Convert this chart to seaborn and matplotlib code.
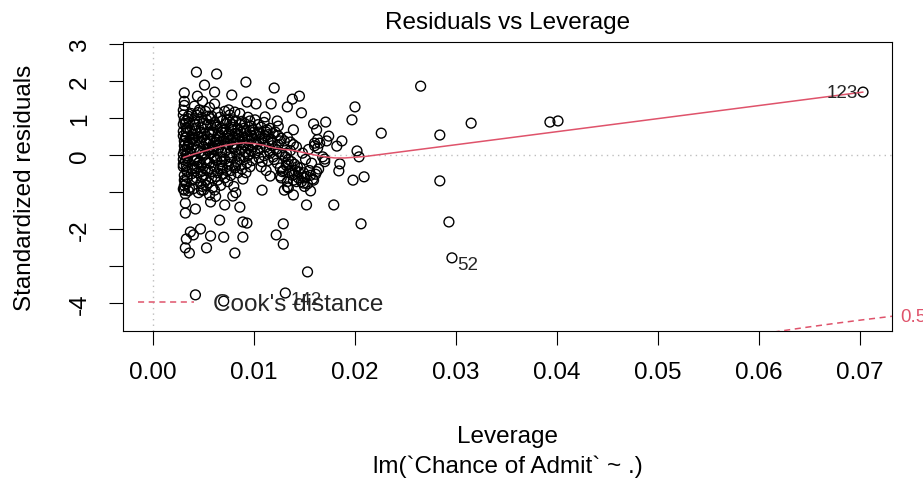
import numpy as np
import pandas as pd
import matplotlib
matplotlib.use("Agg")
import matplotlib.pyplot as plt
from matplotlib.lines import Line2D
import seaborn as sns

# ---------------- data ----------------
# dense core, by leverage band
core_lev_a = [0.0030,0.0031,0.0033,0.0030,0.0032,0.0035,0.0031,0.0034,0.0037,0.0030,0.0033,0.0036,0.0031,0.0039,0.0032,0.0030,0.0034,0.0038,0.0031,0.0033,0.0035,0.0030,0.0032,0.0036,0.0039,0.0031,0.0034,0.0030,0.0037,0.0033,0.0031,0.0035,0.0032,0.0038,0.0030,0.0034,0.0036,0.0031,0.0033,0.0039]
core_res_a = [1.21,0.95,0.74,0.52,0.31,1.05,0.12,-0.08,0.66,-0.25,-0.41,0.88,-0.55,0.43,-0.72,0.02,0.21,1.12,-0.95,0.61,-0.18,0.83,-1.05,0.35,-0.36,1.34,-0.61,-0.12,0.08,0.47,-0.83,0.98,0.15,-0.51,-0.32,0.72,-0.88,0.25,-0.02,0.56]
core_lev_b = [0.0041,0.0043,0.0046,0.0049,0.0052,0.0054,0.0042,0.0045,0.0048,0.0051,0.0053,0.0040,0.0044,0.0047,0.0050,0.0055,0.0042,0.0046,0.0049,0.0052,0.0041,0.0044,0.0048,0.0053,0.0043,0.0047,0.0050,0.0054,0.0040,0.0045,0.0049,0.0052,0.0042,0.0046,0.0051,0.0055,0.0044,0.0048,0.0041,0.0053,0.0047,0.0050,0.0043,0.0045]
core_res_b = [1.32,1.08,0.91,1.45,1.18,0.82,0.65,0.48,0.73,0.57,0.95,0.28,0.14,0.36,0.22,0.61,-0.05,-0.18,0.05,-0.12,-0.35,-0.48,-0.28,-0.21,-0.62,-0.77,-0.55,-0.42,-0.91,-1.02,-0.85,-0.68,0.82,1.22,0.41,0.18,0.58,1.02,-0.15,0.31,0.62,-0.95,0.39,-0.22]
core_lev_c = [0.0056,0.0058,0.0061,0.0064,0.0067,0.0069,0.0057,0.0060,0.0063,0.0066,0.0068,0.0055,0.0059,0.0062,0.0065,0.0070,0.0057,0.0061,0.0064,0.0067,0.0056,0.0060,0.0063,0.0068,0.0058,0.0062,0.0066,0.0069,0.0055,0.0059,0.0064,0.0067,0.0061,0.0057,0.0065,0.0060,0.0063,0.0068,0.0056,0.0062]
core_res_c = [1.28,1.05,0.88,1.15,0.72,0.93,0.55,0.68,0.42,0.51,0.62,0.31,0.22,0.35,0.18,0.45,0.05,-0.08,0.12,-0.05,-0.22,-0.31,-0.15,-0.28,-0.45,-0.58,-0.38,-0.52,-0.75,-0.88,-0.68,-0.82,1.38,0.81,0.28,-0.02,0.75,0.08,-1.08,-1.12]
core_lev_d = [0.0071,0.0073,0.0076,0.0079,0.0082,0.0084,0.0072,0.0075,0.0078,0.0081,0.0083,0.0070,0.0074,0.0077,0.0080,0.0085,0.0072,0.0076,0.0079,0.0082,0.0071,0.0075,0.0078,0.0083,0.0073,0.0077,0.0081,0.0084,0.0074,0.0080,0.0076,0.0082]
core_res_d = [1.18,0.95,1.08,0.82,0.92,0.71,0.62,0.55,0.75,0.48,0.58,0.38,0.28,0.42,0.31,0.52,0.12,0.05,0.21,0.15,-0.12,-0.25,-0.08,-0.18,-0.42,-0.55,-0.35,-0.48,-0.72,-0.85,0.88,-1.02]
core_lev_e = [0.0086,0.0088,0.0091,0.0094,0.0097,0.0099,0.0087,0.0090,0.0093,0.0096,0.0098,0.0085,0.0089,0.0092,0.0095,0.0100,0.0087,0.0091,0.0094,0.0097,0.0086,0.0090,0.0093,0.0098,0.0088,0.0092,0.0096,0.0089]
core_res_e = [1.12,0.91,0.85,1.02,0.78,0.68,0.61,0.72,0.52,0.63,0.45,0.42,0.35,0.25,0.38,0.31,0.15,0.08,0.18,0.12,-0.12,-0.05,-0.22,-0.15,-0.38,-0.48,-0.32,-0.65]
core_lev_f = [0.0101,0.0104,0.0107,0.0110,0.0113,0.0116,0.0119,0.0102,0.0105,0.0108,0.0111,0.0114,0.0117,0.0103,0.0106,0.0109,0.0112,0.0115,0.0118,0.0101,0.0105,0.0110,0.0114,0.0119,0.0107,0.0112]
core_res_f = [0.95,0.82,0.75,0.88,0.68,0.72,0.58,0.55,0.62,0.45,0.52,0.38,0.42,0.28,0.18,0.32,0.22,0.12,0.25,0.05,-0.08,-0.02,-0.15,-0.05,-0.32,-0.42]
core_lev_g = [0.0121,0.0124,0.0127,0.0130,0.0133,0.0136,0.0139,0.0142,0.0122,0.0125,0.0128,0.0131,0.0134,0.0137,0.0140,0.0143,0.0123,0.0126,0.0129,0.0132,0.0135,0.0138,0.0141,0.0144,0.0127,0.0133,0.0139,0.0124,0.0136,0.0130]
core_res_g = [0.62,0.52,0.45,0.38,0.48,0.35,0.28,0.22,0.15,0.08,0.02,-0.05,-0.12,-0.18,-0.25,-0.32,-0.22,-0.35,-0.42,-0.28,-0.48,-0.55,-0.42,-0.62,-0.62,-0.72,-0.68,0.78,0.12,-0.95]
core_lev_h = [0.0146,0.0149,0.0152,0.0155,0.0158,0.0161,0.0164,0.0147,0.0150,0.0153,0.0156,0.0159,0.0162,0.0148,0.0151,0.0154,0.0157,0.0160,0.0165,0.0170,0.0168,0.0172,0.0150,0.0163]
core_res_h = [-0.35,-0.48,-0.58,-0.42,-0.65,-0.52,-0.38,-0.72,-0.62,-0.78,-0.55,-0.68,-0.45,0.05,-0.12,0.15,-0.22,0.25,0.32,-0.18,-0.05,0.38,-0.85,0.42]
# extra core points filling the densest part
core_lev_x = [0.0030,0.0031,0.0032,0.0033,0.0034,0.0030,0.0031,0.0032,0.0033,0.0035,0.0030,0.0032,0.0034,0.0031,0.0033,
              0.0038,0.0040,0.0042,0.0044,0.0046,0.0048,0.0050,0.0052,0.0054,0.0039,0.0041,0.0043,0.0045,0.0047,0.0049,0.0051,0.0053,0.0055,
              0.0057,0.0059,0.0061,0.0063,0.0065,0.0067,0.0069,0.0058,0.0060,0.0062,0.0064,0.0066,0.0068,0.0070,0.0056,
              0.0072,0.0074,0.0076,0.0078,0.0080,0.0082,0.0084,0.0071,0.0073,0.0075,0.0077,0.0079,0.0081,0.0083,
              0.0086,0.0088,0.0090,0.0092,0.0094,0.0096,0.0098,0.0100,0.0087,0.0091,0.0095,0.0099,
              0.0102,0.0106,0.0110,0.0114,0.0118,0.0104,0.0108,0.0112,0.0116,0.0120,
              0.0124,0.0128,0.0132,0.0136,0.0140,0.0144,0.0126,0.0134,0.0142]
core_res_x = [0.64,0.38,-0.15,0.92,-0.45,1.08,-0.68,0.48,-0.78,0.28,-0.92,0.85,0.05,1.45,-0.28,
              0.18,0.45,0.72,-0.32,0.08,-0.58,0.85,-0.38,0.12,-0.68,0.98,-0.15,1.15,-0.45,0.48,0.02,-0.82,1.05,
              0.98,0.62,0.25,-0.12,0.58,0.35,-0.35,-0.62,0.15,0.82,-0.48,1.02,-0.18,0.68,0.42,
              0.85,0.45,-0.05,0.68,0.18,-0.28,0.42,-0.62,0.32,1.22,-0.42,0.95,0.58,0.02,
              0.82,0.48,0.28,0.65,-0.02,0.92,0.52,0.62,-0.28,0.45,0.02,0.22,
              0.35,0.58,0.45,0.55,0.35,0.12,-0.18,0.62,0.05,-0.12,
              0.28,-0.45,0.05,-0.42,-0.52,-0.45,0.38,-0.25,-0.72]

# scattered points around the core
mid_lev = [0.0043,0.0063,0.0092,0.0051,0.0031,0.0044,0.0061,0.0078,0.0093,0.0102,0.0117,0.0133,0.0138,0.0145,0.0147,0.0139,0.0111,0.0123,0.0081,0.0120,0.0200,0.0197,0.0159,0.0171,0.0162,0.0174,0.0187,0.0182,0.0202,0.0204,0.0160,0.0163,0.0226,0.0185,0.0184,0.0198,0.0209,0.0170,0.0156,0.0152,0.0179,0.0139,0.0133,0.0116,0.0126,0.0149,0.0134,0.0108,0.0079]
mid_res = [2.24,2.19,1.97,1.89,1.68,1.59,1.70,1.62,1.43,1.38,1.38,1.30,1.51,1.59,1.14,0.68,1.03,0.92,1.16,1.81,1.30,0.95,0.84,0.89,0.68,0.51,0.38,0.24,0.11,-0.05,0.32,0.19,0.59,-0.24,-0.43,-0.68,-0.59,-0.11,-0.97,-1.35,-1.35,-1.08,-0.86,-0.57,-0.57,-0.76,-0.89,-0.95,-1.11]

# lower tail
tail_lev = [0.0035,0.0048,0.0061,0.0032,0.0042,0.0032,0.0071,0.0086,0.0057,0.0066,0.0089,0.0093,0.0037,0.0047,0.0033,0.0040,0.0057,0.0070,0.0089,0.0032,0.0036,0.0053,0.0081,0.0042,0.0070,0.0129,0.0206,0.0129,0.0122,0.0153,0.0131]
tail_res = [-0.97,-0.95,-0.95,-1.30,-1.46,-1.57,-1.35,-1.41,-1.27,-1.76,-1.81,-1.84,-2.08,-2.00,-2.27,-2.16,-2.19,-2.22,-2.22,-2.51,-2.65,-2.51,-2.65,-3.78,-3.95,-1.86,-1.86,-2.41,-2.16,-3.16,-3.73]

# high-leverage points
far_lev = [0.0265,0.0284,0.0284,0.0293,0.0296,0.0315,0.0393,0.0401,0.0703]
far_res = [1.86,0.54,-0.70,-1.81,-2.78,0.86,0.89,0.92,1.70]

# labelled observations
id_lev = [0.0703, 0.0296, 0.0131]
id_res = [1.70, -2.78, -3.73]
id_text = ["123", "52", "142"]

# smoothed (lowess) red line
smooth_lev = [0.0030,0.0040,0.0050,0.0060,0.0070,0.0080,0.0090,0.0100,0.0110,0.0120,0.0130,0.0140,0.0150,0.0160,0.0170,0.0180,0.0190,0.0200,0.0210,0.0703]
smooth_res = [-0.07,0.02,0.10,0.18,0.25,0.30,0.33,0.31,0.26,0.19,0.15,0.12,0.06,0.00,-0.05,-0.08,-0.08,-0.06,-0.04,1.70]

# Cook's distance contour
cook_level = 0.5
n_params = 3

x_ticks = [0.00, 0.01, 0.02, 0.03, 0.04, 0.05, 0.06, 0.07]
y_ticks = [-4, -3, -2, -1, 0, 1, 2, 3]
y_tick_labels = ["-4", "", "-2", "", "0", "1", "2", "3"]

title = "Residuals vs Leverage"
xlab = "Leverage"
sub_caption = "lm(`Chance of Admit` ~ .)"
ylab = "Standardized residuals"
legend_label = "Cook's distance"

# ---------------- plotting ----------------
lev = (core_lev_a + core_lev_b + core_lev_c + core_lev_d + core_lev_e + core_lev_f
       + core_lev_g + core_lev_h + core_lev_x + mid_lev + tail_lev + far_lev)
res = (core_res_a + core_res_b + core_res_c + core_res_d + core_res_e + core_res_f
       + core_res_g + core_res_h + core_res_x + mid_res + tail_res + far_res)
df = pd.DataFrame({"lev": lev, "res": res})
smooth_df = pd.DataFrame({"lev": smooth_lev, "res": smooth_res})

sns.set_theme(style="white")
plt.rcParams['font.family'] = ['Liberation Sans', 'DejaVu Sans']

W, H = 923, 481
L, R, T, B = 123, 892, 43, 332
fig = plt.figure(figsize=(W / 100, H / 100), dpi=100)
ax = fig.add_axes([L / W, (H - B) / H, (R - L) / W, (B - T) / H])

XMIN, XMAX = -0.00297, 0.07317
YMIN, YMAX = -4.757, 3.054
ax.set_xlim(XMIN, XMAX)
ax.set_ylim(YMIN, YMAX)

RED = "#DF536B"
GRAY = "#BEBEBE"
FS = 17.5

ax.axhline(0, color=GRAY, ls=(0, (1, 3)), lw=1.0, zorder=0)
ax.axvline(0, color=GRAY, ls=(0, (1, 3)), lw=1.0, zorder=0)

sns.scatterplot(data=df, x="lev", y="res", ax=ax, s=50, color="black",
                linewidth=1.0, legend=False, zorder=2)
coll = ax.collections[-1]
coll.set_facecolor("none")
coll.set_edgecolor("black")

sns.lineplot(data=smooth_df, x="lev", y="res", ax=ax, color=RED, lw=1.1,
             sort=False, estimator=None, zorder=3)

hh = np.linspace(0.01, XMAX, 300)
cl = np.sqrt(cook_level * n_params * (1 - hh) / hh)
ax.plot(hh, -cl, color=RED, ls=(0, (4, 3)), lw=1.1, zorder=3)
ax.plot(hh, cl, color=RED, ls=(0, (4, 3)), lw=1.1, zorder=3)
ax.text(XMAX + 0.0008, -np.sqrt(cook_level * n_params * (1 - XMAX) / XMAX),
        f"{cook_level:g}", color=RED, fontsize=13.5, ha="left", va="center",
        clip_on=False)

for xv, yv, t in zip(id_lev, id_res, id_text):
    if xv > (XMIN + XMAX) / 2:
        ax.annotate(t, (xv, yv), xytext=(-4, 0), textcoords="offset points",
                    ha="right", va="center", fontsize=13.5)
    else:
        ax.annotate(t, (xv, yv), xytext=(4, -5), textcoords="offset points",
                    ha="left", va="center", fontsize=13.5)

handle = Line2D([0], [0], color=RED, ls=(0, (4, 3)), lw=1.1)
ax.legend(handles=[handle], labels=[legend_label], loc="center left",
          bbox_to_anchor=((138 - L) / (R - L), (B - 305) / (B - T)),
          frameon=False, borderpad=0, borderaxespad=0, handlelength=2.3,
          handletextpad=0.8, fontsize=FS)

ax.set_xticks(x_ticks)
ax.set_xticklabels([f"{v:.2f}" for v in x_ticks])
ax.set_yticks(y_ticks)
ax.set_yticklabels(y_tick_labels)
ax.tick_params(axis="both", which="both", bottom=True, left=True, direction="out",
               length=10, width=0.8, color="black", labelsize=FS, labelcolor="black")
ax.tick_params(axis="x", pad=11.5)
ax.tick_params(axis="y", pad=13)
for lab in ax.get_yticklabels():
    lab.set_rotation(90)
    lab.set_va("center")
    lab.set_ha("right")

for sp in ax.spines.values():
    sp.set_color("black")
    sp.set_linewidth(0.8)

ax.set_title(title, fontsize=FS, pad=10, color="black")
ax.set_xlabel(xlab, fontsize=FS, color="black")
ax.xaxis.label.set_va("center")
ax.xaxis.set_label_coords(0.5, (B - 437) / (B - T))
ax.text(0.5, (B - 467) / (B - T), sub_caption, transform=ax.transAxes,
        ha="center", va="center", fontsize=FS, color="black")
ax.set_ylabel(ylab, fontsize=FS, color="black")
ax.yaxis.label.set_va("center")
ax.yaxis.set_label_coords((25 - L) / (R - L), 0.5)

fig.savefig("out.png", dpi=100)
